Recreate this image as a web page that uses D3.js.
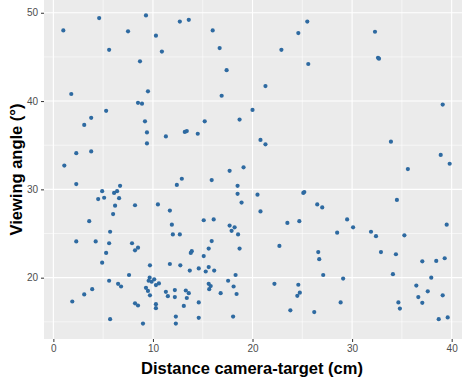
<!DOCTYPE html>
<html>
<head>
<meta charset="utf-8">
<script src="https://cdn.jsdelivr.net/npm/d3@7"></script>
<style>
  body { margin: 0; background: #fff; }
  svg { display: block; font-family: "Liberation Sans", Arial, sans-serif; }
</style>
</head>
<body>
<div class="bod"></div>
<script>
// data: distance (cm) and viewing angle (deg)
const distance = [
  1.0, 4.6, 7.5, 9.3, 10.3, 12.7, 5.6, 10.9, 8.7, 1.8, 9.5, 8.5, 8.9, 5.3, 3.8,
  13.6, 16.0, 16.7, 17.4, 16.9, 21.3, 20.0, 18.7, 22.9, 24.6, 25.5, 25.6,
  32.3, 32.6, 32.7, 39.1,
  3.1, 9.2, 9.4, 11.3, 9.4, 2.3, 3.8, 1.1, 2.3, 6.7, 12.4, 4.9, 6.4, 6.1, 4.5, 5.1, 6.6, 6.2, 8.2, 10.5, 11.7, 6.0, 3.6, 11.9,
  15.2, 13.2, 13.4, 14.5, 20.8, 21.3, 19.1, 17.7, 12.9, 15.9, 18.5, 18.5, 20.5, 25.1, 25.2, 18.9, 26.5, 20.8, 15.1, 16.1, 17.7, 18.2, 23.5, 24.7,
  33.9, 35.6, 38.9, 39.8, 34.5, 27.0, 29.5, 30.1, 39.5,
  5.7, 2.3, 4.25, 5.6, 7.9, 8.5, 8.2, 5.3, 4.9, 9.7, 11.7, 12.75, 12.0, 12.7, 7.6, 5.6, 9.67, 10.13, 9.87, 9.57, 10.6, 10.3,
  6.5, 6.8, 3.9, 9.3, 9.5, 3.1, 11.3, 12.2, 9.7, 11.5, 12.2, 1.9, 8.2, 8.5, 10.3, 10.3, 12.3, 5.7, 9.0, 12.3,
  17.9, 18.55, 15.9, 15.6, 18.7, 13.9, 13.8, 22.7, 26.6, 26.7, 15.1, 14.6, 15.6, 13.7, 15.3, 16.15, 18.3, 17.55, 22.2, 24.6,
  15.6, 15.8, 15.65, 18.1, 13.3, 13.6, 16.8, 18.4, 13.4, 24.5, 24.75, 14.6, 13.1, 23.8, 26.2, 14.6, 18.05,
  28.5, 31.9, 32.4, 35.25, 32.9, 34.4, 37.05, 38.45, 39.3, 27.1, 29.1, 34.1, 37.95, 36.45, 37.6, 39.1, 36.65,
  28.85, 34.65, 37.05, 34.8, 38.7, 39.6
]
const angle = [
  48.0, 49.4, 47.9, 49.7, 47.4, 49.0, 45.8, 45.6, 44.5, 40.8, 41.1, 39.8, 39.7, 38.9, 38.1,
  49.2, 48.0, 46.0, 43.5, 40.6, 41.7, 39.0, 37.9, 45.8, 47.7, 49.0, 44.2,
  47.85, 44.9, 44.8, 39.6,
  37.3, 37.7, 36.45, 36.0, 35.2, 34.1, 34.3, 32.7, 30.6, 30.4, 30.5, 29.8, 29.8, 29.6, 28.9, 29.05, 29.0, 28.15, 28.2, 28.3, 27.6, 27.2, 26.4, 26.0,
  37.7, 36.5, 36.6, 36.3, 35.6, 35.1, 32.5, 32.1, 31.2, 31.05, 30.4, 29.5, 29.4, 29.6, 29.7, 28.5, 28.3, 27.5, 26.5, 26.6, 25.9, 25.7, 26.2, 26.4,
  35.4, 32.3, 33.9, 32.9, 28.8, 27.96, 26.6, 25.7, 26.0,
  25.2, 24.1, 24.1, 23.9, 23.9, 23.4, 23.1, 22.8, 21.7, 21.4, 21.55, 21.4, 24.9, 24.9, 20.3, 19.65, 20.0, 19.81, 19.54, 19.65, 19.35, 19.16,
  19.3, 19.0, 18.7, 18.85, 18.5, 18.1, 18.4, 18.6, 18.0, 17.9, 17.8, 17.3, 17.1, 16.85, 17.0, 16.55, 15.6, 15.3, 14.8, 14.8,
  25.3, 24.9, 24.15, 23.3, 23.3, 23.0, 22.8, 23.6, 22.9, 22.1, 22.45, 21.05, 21.2, 20.8, 20.7, 20.8, 20.3, 19.65, 19.3, 19.2,
  19.3, 19.05, 18.7, 19.0, 18.55, 18.25, 18.25, 18.15, 17.7, 17.95, 18.3, 17.2, 16.8, 16.3, 16.1, 15.45, 15.6,
  25.1, 25.2, 24.7, 24.8, 22.9, 22.65, 21.85, 21.9, 22.2, 20.3, 19.9, 20.4, 20.0, 19.1, 18.45, 18.0, 17.8,
  17.2, 17.2, 17.15, 16.5, 15.3, 15.5
]
const xTicks = [0, 10, 20, 30, 40]
const xMinor = [5, 15, 25, 35]
const yTicks = [20, 30, 40, 50]
const yMinor = [15, 25, 35, 45]
const xTitle = 'Distance camera-target (cm)'
const yTitle = 'Viewing angle (°)'

var size = {width: 462, height: 379}
var panel = {left: 44, top: 0, right: 462, bottom: 339}

const points = distance.map((d, i) => ({x: d, y: angle[i]}))

// ggplot-like 5% expansion
const xExt = d3.extent(distance), yExt = d3.extent(angle)
const xPad = (xExt[1] - xExt[0]) * 0.05, yPad = (yExt[1] - yExt[0]) * 0.05

const x = d3.scaleLinear()
  .domain([xExt[0] - xPad, xExt[1] + xPad])
  .range([panel.left, 469])
const y = d3.scaleLinear()
  .domain([yExt[0] - yPad, yExt[1] + yPad])
  .range([panel.bottom, panel.top])

const svg = d3.select('.bod')
  .append('svg')
  .attr('width', size.width)
  .attr('height', size.height)

svg.append('defs').append('clipPath').attr('id', 'clip')
  .append('rect')
  .attr('x', panel.left).attr('y', panel.top)
  .attr('width', panel.right - panel.left).attr('height', panel.bottom - panel.top)

// panel background
svg.append('rect')
  .attr('x', panel.left).attr('y', panel.top)
  .attr('width', panel.right - panel.left).attr('height', panel.bottom - panel.top)
  .attr('fill', '#ebebeb')

const grid = svg.append('g').attr('clip-path', 'url(#clip)')
// minor grid
grid.selectAll('.vminor').data(xMinor).enter().append('line')
  .attr('x1', d => x(d)).attr('x2', d => x(d))
  .attr('y1', panel.top).attr('y2', panel.bottom)
  .attr('stroke', '#fff').attr('stroke-width', 0.55)
grid.selectAll('.hminor').data(yMinor).enter().append('line')
  .attr('y1', d => y(d)).attr('y2', d => y(d))
  .attr('x1', panel.left).attr('x2', panel.right)
  .attr('stroke', '#fff').attr('stroke-width', 0.55)
// major grid
grid.selectAll('.vmajor').data(xTicks).enter().append('line')
  .attr('x1', d => x(d)).attr('x2', d => x(d))
  .attr('y1', panel.top).attr('y2', panel.bottom)
  .attr('stroke', '#fff').attr('stroke-width', 1.1)
grid.selectAll('.hmajor').data(yTicks).enter().append('line')
  .attr('y1', d => y(d)).attr('y2', d => y(d))
  .attr('x1', panel.left).attr('x2', panel.right)
  .attr('stroke', '#fff').attr('stroke-width', 1.1)

// points
svg.append('g').attr('clip-path', 'url(#clip)')
  .selectAll('circle')
  .data(points)
  .enter()
  .append('circle')
  .attr('cx', d => x(d.x))
  .attr('cy', d => y(d.y))
  .attr('r', 2.1)
  .attr('fill', '#2e6aa1')

// axes
const xAxis = svg.append('g')
  .attr('transform', `translate(0,${panel.bottom})`)
  .call(d3.axisBottom(x).tickValues(xTicks).tickSize(3).tickPadding(3))
const yAxis = svg.append('g')
  .attr('transform', `translate(${panel.left},0)`)
  .call(d3.axisLeft(y).tickValues(yTicks).tickSize(3).tickPadding(3))
;[xAxis, yAxis].forEach(a => {
  a.select('.domain').remove()
  a.selectAll('.tick line').attr('stroke', '#333').attr('stroke-width', 1)
  a.selectAll('.tick text')
    .attr('fill', '#4d4d4d')
    .style('font-size', '10px')
    .style('font-family', '"Liberation Sans", Arial, sans-serif')
})

// titles
svg.append('text')
  .attr('x', (panel.left + 452) / 2 + 4)
  .attr('y', 374)
  .attr('text-anchor', 'middle')
  .style('font-size', '16.5px')
  .style('font-weight', 'bold')
  .attr('fill', '#000')
  .text(xTitle)

svg.append('text')
  .attr('transform', `translate(22,${(panel.top + panel.bottom) / 2}) rotate(-90)`)
  .attr('text-anchor', 'middle')
  .style('font-size', '16.5px')
  .style('font-weight', 'bold')
  .attr('fill', '#000')
  .text(yTitle)
</script>
</body>
</html>
